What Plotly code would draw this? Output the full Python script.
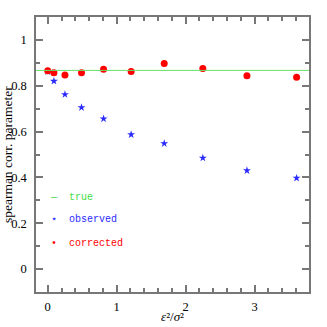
import plotly.graph_objects as go

# eps^2 / sigma^2 values
ratio = [0, 0.09, 0.25, 0.49, 0.81, 1.21, 1.69, 2.25, 2.89, 3.61]
observed = [0.862, 0.820, 0.762, 0.705, 0.656, 0.587, 0.548, 0.485, 0.430, 0.397]
corrected = [0.866, 0.857, 0.847, 0.857, 0.872, 0.862, 0.897, 0.875, 0.844, 0.837]
true_value = 0.867

serif = "Liberation Serif"
mono = "Liberation Mono"

fig = go.Figure()
fig.add_hline(y=true_value, line=dict(color="#66e066", width=1))
fig.add_trace(go.Scatter(x=ratio, y=observed, mode="markers", name="observed",
                         marker=dict(symbol="star", size=6, color="#2a2aff", line=dict(width=0))))
fig.add_trace(go.Scatter(x=ratio, y=corrected, mode="markers", name="corrected",
                         marker=dict(symbol="circle", size=7, color="#ff0000", line=dict(width=0))))

axis_common = dict(showgrid=False, zeroline=False, ticks="inside", mirror="allticks",
                   showline=True, linecolor="#777777", linewidth=1.5, automargin=False,
                   tickcolor="#777777", ticklen=7, tickwidth=1.5,
                   tickfont=dict(family=serif, size=12.5, color="black"))

fig.update_xaxes(range=[-0.17, 3.79], tickvals=[0, 1, 2, 3], ticklabelstandoff=2,
                 minor=dict(dtick=0.2, tick0=0, ticks="inside", ticklen=4, tickcolor="#777777"),
                 **axis_common)
fig.update_yaxes(range=[-0.1, 1.1], tickvals=[0, 0.2, 0.4, 0.6, 0.8, 1], ticktext=["0", "0.2", "0.4", "0.6", "0.8", "1"],
                 ticklabelstandoff=5,
                 minor=dict(dtick=0.1, tick0=0, ticks="inside", ticklen=4, tickcolor="#777777"),
                 **axis_common)

# axis titles as annotations so they sit where the reference puts them
fig.add_annotation(x=-0.104, y=0.5, xref="paper", yref="paper", text="spearman corr. parameter",
                   textangle=-90, showarrow=False, xanchor="center", yanchor="middle", borderpad=0,
                   font=dict(family=serif, size=13.5, color="black"))
fig.add_annotation(x=0.5, y=-0.09, xref="paper", yref="paper", text="<i>ε</i>²/<i>σ</i>²",
                   showarrow=False, xanchor="center", yanchor="middle", borderpad=0,
                   font=dict(family=serif, size=13, color="black"))

# legend drawn inside the plot
legend_rows = [("—", "true", "#44dd44", 0.345), ("⋆", "observed", "#2a2aff", 0.262), ("•", "corrected", "#ff0000", 0.178)]
for sym, label, col, yy in legend_rows:
    fig.add_annotation(x=0.066, y=yy, xref="paper", yref="paper", text=sym, showarrow=False,
                       xanchor="center", yanchor="middle", font=dict(family=mono, size=10, color=col))
    fig.add_annotation(x=0.114, y=yy, xref="paper", yref="paper", text=label, showarrow=False,
                       xanchor="left", yanchor="middle", font=dict(family=mono, size=10, color=col))

fig.update_layout(width=327, height=327, margin=dict(l=36, r=18, t=17, b=35),
                  plot_bgcolor="white", paper_bgcolor="white", showlegend=False)
# drop the page's default body margin so the figure fills the window
fig.write_html("out.html", config={"displayModeBar": False},
               post_script="document.body.style.margin='0';")
